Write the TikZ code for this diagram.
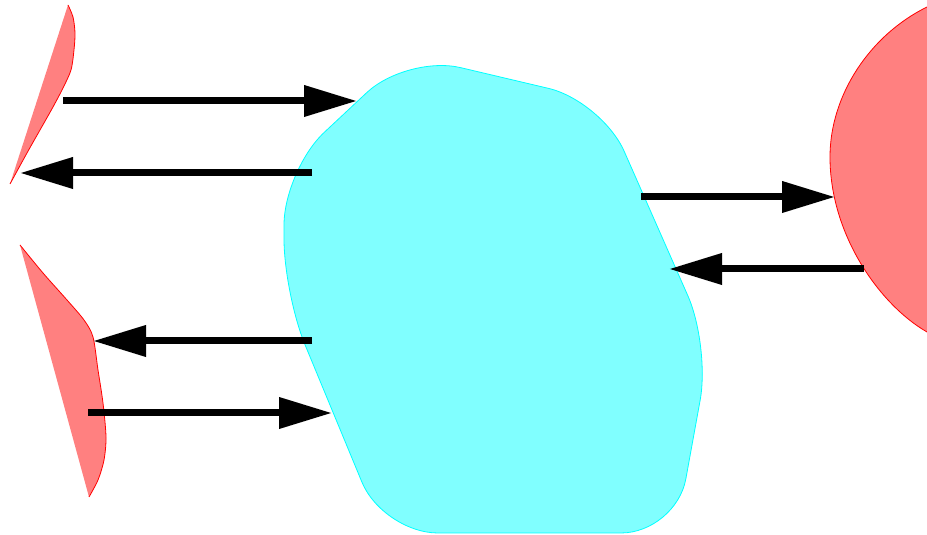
\documentclass[tikz,border=0pt]{standalone}
\usetikzlibrary{arrows.meta}
\definecolor{blobfill}{rgb}{0.5,1.0,1.0}
\definecolor{blobline}{rgb}{0.0,1.0,1.0}
\definecolor{lobefill}{rgb}{1.0,0.5,0.5}
\definecolor{lobeline}{rgb}{1.0,0.0,0.0}
\tikzset{
  flow/.style={line width=7bp,line cap=butt,-{Triangle[length=53bp,width=30bp]}},
  lobe/.style={fill=lobefill,draw=none},
  lobeedge/.style={draw=lobeline,line width=0.8bp},
}
\begin{document}
\begin{tikzpicture}[x=1bp,y=1bp]
  \useasboundingbox (0,0) rectangle (927,535);
  \clip (0,0) rectangle (927,535);
%%
  % Region: Core
\begin{scope}
  \draw [fill=blobfill,draw=blobline,line width=0.8bp,rounded corners=55bp]
    (530,2) -- (383,2) -- (284,241) -- (284,365) -- (407,480) -- (602,434)
    -- (710,189) -- (676,2) -- cycle;
\end{scope}
  % Region: UpperLobe
\begin{scope}
  \fill [lobe] plot [smooth] coordinates {(68,530) (73,518) (75,502) (74,485) (71,465) (63,447) (53,428) (40,405) (27,382) (10,351)} -- cycle;
  \draw [lobeedge] plot [smooth] coordinates {(68,530) (73,518) (75,502) (74,485) (71,465) (63,447) (53,428) (40,405) (27,382) (10,351)};
\end{scope}
  % Region: LowerLobe
\begin{scope}
  \fill [lobe] plot [smooth] coordinates {(20,290) (43,262) (67,235) (84,215) (93,198) (98,165) (103,132) (106,98) (104,75) (98,55) (89,38)} -- cycle;
  \draw [lobeedge] plot [smooth] coordinates {(20,290) (43,262) (67,235) (84,215) (93,198) (98,165) (103,132) (106,98) (104,75) (98,55) (89,38)};
\end{scope}
  % Region: RightLobe
\begin{scope}
  \fill [lobe] (927,528) .. controls (870,500) and (830,440) .. (830,378)
    .. controls (830,300) and (880,230) .. (927,203) -- cycle;
  \draw [lobeedge] (927,528) .. controls (870,500) and (830,440) .. (830,378)
    .. controls (830,300) and (880,230) .. (927,203);
\end{scope}
%
  % Ends of the flows
  \coordinate (UpOut)    at (63,434);
  \coordinate (CoreInA)  at (357,434);
  \coordinate (CoreOutA) at (312,362);
  \coordinate (UpIn)     at (20,362);
  \coordinate (CoreOutB) at (312,194);
  \coordinate (LowIn)    at (93,194);
  \coordinate (LowOut)   at (88,122);
  \coordinate (CoreInB)  at (332,122);
  \coordinate (CoreOutC) at (641,338);
  \coordinate (RightIn)  at (835,338);
  \coordinate (RightOut) at (864,266);
  \coordinate (CoreInC)  at (669,266);
  % Flow: UpperLobe -> Core
  \draw [flow] (UpOut) -- (CoreInA);
  % Flow: Core -> UpperLobe
  \draw [flow] (CoreOutA) -- (UpIn);
  % Flow: Core -> LowerLobe
  \draw [flow] (CoreOutB) -- (LowIn);
  % Flow: LowerLobe -> Core
  \draw [flow] (LowOut) -- (CoreInB);
  % Flow: Core -> RightLobe
  \draw [flow] (CoreOutC) -- (RightIn);
  % Flow: RightLobe -> Core
  \draw [flow] (RightOut) -- (CoreInC);
%
\end{tikzpicture}
\end{document}
